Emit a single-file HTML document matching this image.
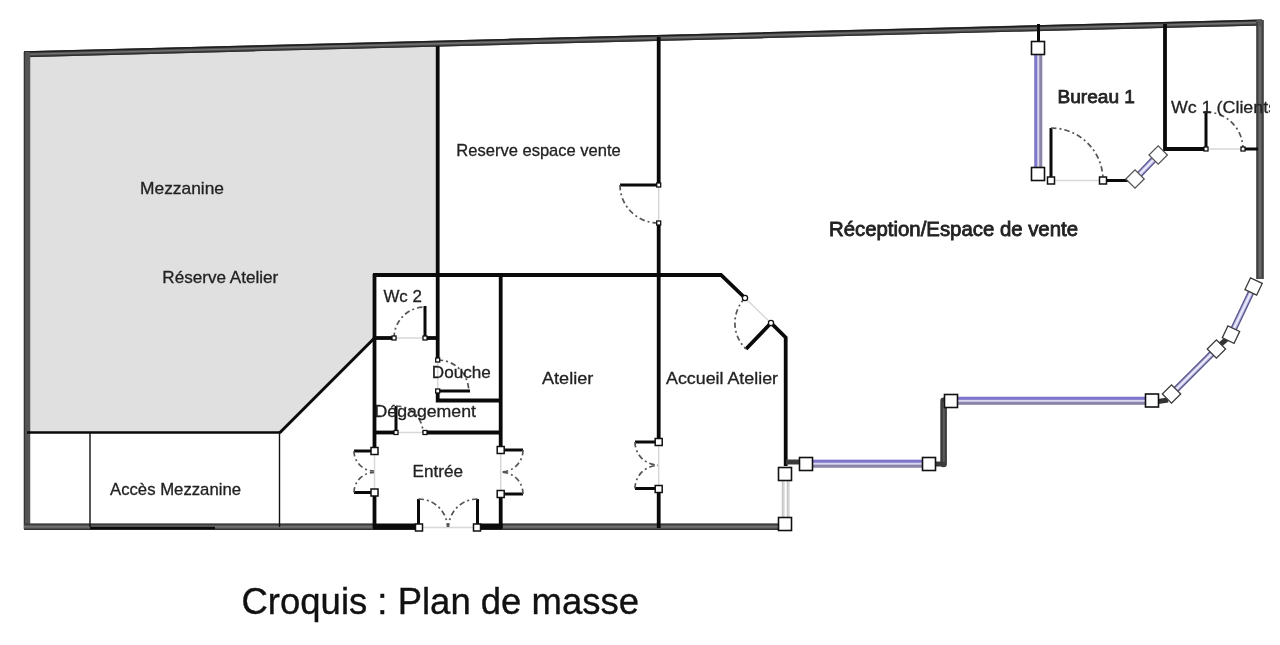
<!DOCTYPE html>
<html><head><meta charset="utf-8">
<style>
html,body{margin:0;padding:0;background:#fff;}
body{width:1280px;height:645px;overflow:hidden;}
svg{display:block;filter:blur(0.45px)}
text{font-family:"Liberation Sans",sans-serif;fill:#222;stroke:#222;stroke-width:0.3}
.w{stroke:#0a0a0a;stroke-width:3.8;fill:none;stroke-linecap:butt;stroke-linejoin:miter}
.t{stroke:#111;stroke-width:1.4;fill:none}
.g{stroke:#d6d8d6;stroke-width:1.5;fill:none}
.a{stroke:#555;stroke-width:1.7;fill:none;stroke-dasharray:5.5 3 2 3}
.sq{fill:#fff;stroke:#111;stroke-width:1.6}
.hs{fill:#fff;stroke:#111;stroke-width:1.5}
</style></head><body>
<svg width="1280" height="645" viewBox="0 0 1280 645">
<rect width="1280" height="645" fill="#fff"/>
<!-- mezzanine fill -->
<polygon points="27,54 437,44 437,275 374,275 374,338 280,432 27,432" fill="#e0e0e0"/>

<!-- outer walls -->
<g id="outer">
<line x1="24" y1="54.2" x2="1262" y2="22.4" stroke="#4c4c4c" stroke-width="6"/>
<line x1="24" y1="52" x2="1262" y2="20.2" stroke="#1e1e1e" stroke-width="1.5"/>
<line x1="24" y1="54.3" x2="1262" y2="22.5" stroke="#747474" stroke-width="1.3"/>
<line x1="24" y1="56.6" x2="1262" y2="24.8" stroke="#2e2e2e" stroke-width="1.2"/>
<line x1="27" y1="52" x2="27" y2="529" stroke="#555" stroke-width="6.5"/>
<line x1="24.5" y1="52" x2="24.5" y2="529" stroke="#333" stroke-width="1.2"/>
<path d="M24,526.7 H419 M477,526.7 H785" stroke="#555" stroke-width="6" fill="none"/>
<path d="M24,524.2 H419 M477,524.2 H785" stroke="#333" stroke-width="1.2" fill="none"/>
<path d="M24,529.3 H419 M477,529.3 H785" stroke="#333" stroke-width="1.2" fill="none"/>
<path d="M24,526.8 H373 M503,526.8 H785" stroke="#7a7a7a" stroke-width="1.2" fill="none"/>
<line x1="1260" y1="20" x2="1260" y2="279" stroke="#555" stroke-width="7"/>
<line x1="1257" y1="22" x2="1257" y2="279" stroke="#333" stroke-width="1.2"/>
<line x1="1263" y1="20" x2="1263" y2="279" stroke="#333" stroke-width="1.2"/>
<line x1="1260" y1="26" x2="1260" y2="277" stroke="#777" stroke-width="1.2"/>
</g>

<!-- inner walls -->
<g id="walls">
<line class="w" x1="437.7" y1="46" x2="437.7" y2="360"/>
<polyline class="w" points="373,275 721,275 745,298"/>
<line class="w" x1="500.7" y1="274" x2="500.7" y2="450"/>
<line class="w" x1="500.7" y1="494" x2="500.7" y2="528"/>
<line class="w" x1="374.5" y1="274" x2="374.5" y2="451"/>
<line class="w" x1="374.5" y1="492" x2="374.5" y2="528"/>
<!-- wc2 -->
<line class="w" x1="373" y1="338" x2="394" y2="338"/>
<line class="w" x1="425" y1="338" x2="439" y2="338"/>
<line class="w" style="stroke-width:3" x1="425" y1="306" x2="425" y2="339.5"/>
<line class="g" x1="394" y1="338" x2="425" y2="338"/>
<!-- douche -->
<line class="w" style="stroke-width:3" x1="437" y1="391" x2="470" y2="391"/>
<polyline class="w" points="437.7,390 437.7,400.5 502,400.5"/>
<line class="g" x1="437.7" y1="360" x2="437.7" y2="391"/>
<!-- degagement -->
<line class="w" x1="373" y1="432.5" x2="396" y2="432.5"/>
<line class="w" x1="425" y1="432.5" x2="502" y2="432.5"/>
<line class="w" style="stroke-width:3" x1="396" y1="406" x2="396" y2="434"/>
<line class="g" x1="396" y1="432.5" x2="425" y2="432.5"/>
<!-- entree bottom black -->
<line class="w" style="stroke-width:5.4" x1="373" y1="526.7" x2="419" y2="526.7"/>
<line class="w" style="stroke-width:5.4" x1="477" y1="526.7" x2="502.4" y2="526.7"/>
<line class="g" x1="419" y1="527.5" x2="477" y2="527.5"/>
<line class="g" x1="374.5" y1="451" x2="374.5" y2="492"/>
<line class="g" x1="500.7" y1="450" x2="500.7" y2="494"/>
<!-- entree door leaves -->
<line class="w" style="stroke-width:3" x1="354" y1="451" x2="374" y2="451"/>
<line class="w" style="stroke-width:3" x1="354" y1="492.5" x2="374" y2="492.5"/>
<line class="w" style="stroke-width:3" x1="501" y1="450" x2="523" y2="450"/>
<line class="w" style="stroke-width:3" x1="501" y1="494" x2="523" y2="494"/>
<line class="w" style="stroke-width:3" x1="418.5" y1="499" x2="418.5" y2="527"/>
<line class="w" style="stroke-width:3" x1="477.5" y1="499" x2="477.5" y2="527"/>
<!-- wall 658 -->
<line class="w" x1="658.7" y1="37" x2="658.7" y2="185"/>
<line class="w" x1="658.7" y1="223" x2="658.7" y2="442"/>
<line class="w" x1="658.7" y1="489" x2="658.7" y2="528"/>
<line class="g" x1="658.7" y1="185" x2="658.7" y2="223"/>
<line class="g" x1="658.7" y1="442" x2="658.7" y2="489"/>
<line class="w" style="stroke-width:3" x1="620" y1="185" x2="659" y2="185"/>
<line class="w" style="stroke-width:3" x1="635" y1="442" x2="658" y2="442"/>
<line class="w" style="stroke-width:3" x1="635" y1="488.5" x2="658" y2="488.5"/>
<!-- accueil atelier -->
<line class="g" x1="745" y1="298" x2="771" y2="323"/>
<polyline class="w" points="746,349 771,323 785.7,337.5 785.7,466"/>
<!-- accès mezzanine -->
<line class="w" style="stroke-width:2.6" x1="27" y1="432.5" x2="280" y2="432.5"/>
<line class="w" style="stroke-width:3" x1="279.5" y1="433" x2="375" y2="337.5"/>
<line class="t" x1="90" y1="432" x2="90" y2="527"/>
<line class="t" x1="279.5" y1="432" x2="279.5" y2="527"/>
<line class="w" style="stroke-width:2.4" x1="90" y1="528" x2="215" y2="528"/>
<!-- bureau / wc1 -->
<line class="w" style="stroke-width:3" x1="1038.5" y1="24" x2="1038.5" y2="42"/>
<line class="w" style="stroke-width:3" x1="1051" y1="128" x2="1051" y2="181"/>
<line class="g" x1="1051" y1="180.5" x2="1103" y2="180.5"/>
<line class="w" style="stroke-width:3" x1="1103" y1="180.5" x2="1128" y2="180.5"/>
<polyline class="w" points="1165,24 1165,149 1206,149"/>
<line class="w" style="stroke-width:3" x1="1206" y1="111" x2="1206" y2="150.5"/>
<line class="g" x1="1206" y1="149" x2="1243" y2="149"/>
<line class="w" style="stroke-width:3" x1="1243" y1="149" x2="1258" y2="149"/>
<!-- step wall -->
<line x1="943.6" y1="400.7" x2="943.6" y2="464" stroke="#3d3d3d" stroke-width="6.6" stroke-linecap="round"/><line x1="943.8" y1="402" x2="943.8" y2="462" stroke="#5c5c5c" stroke-width="2"/>
<line x1="786" y1="462" x2="801" y2="462" stroke="#3a3a3a" stroke-width="5"/>
<line x1="933" y1="464" x2="943" y2="464" stroke="#3a3a3a" stroke-width="5"/>
</g>

<!-- door arcs -->
<g id="arcs">
<path class="a" d="M394,338 A31,31 0 0 1 425,307"/>
<path class="a" d="M437.7,360 A31,31 0 0 1 468.7,391"/>
<path class="a" d="M396,406 A27,27 0 0 1 423,432.5"/>
<path class="a" d="M354,451 A20,20 0 0 0 374,471"/>
<path class="a" d="M354,492.5 A20,20 0 0 1 374,472.5"/>
<path class="a" d="M523,450 A22,22 0 0 1 501,472"/>
<path class="a" d="M523,494 A22,22 0 0 0 501,472"/>
<path class="a" d="M418.5,499 A29,29 0 0 1 447.5,527"/>
<path class="a" d="M477.5,499 A29,29 0 0 0 448.5,527"/>
<path class="a" d="M620,185 A38,38 0 0 0 658,223"/>
<path class="a" d="M635,442 A23,23 0 0 0 658,465"/>
<path class="a" d="M635,488.5 A23,23 0 0 1 658,465.5"/>
<path class="a" d="M745,298 A36,36 0 0 0 746,349"/>
<path class="a" d="M1051,128 A52,52 0 0 1 1103,180"/>
<path class="a" d="M1206,112 A37,37 0 0 1 1243,149"/>
</g>

<!-- windows -->
<g id="windows">
<g transform="translate(812,463.7) rotate(0)"><rect x="0" y="-4.0" width="111" height="8.0" fill="#d9d6f0"/><rect x="0" y="-4.0" width="111" height="3.0" fill="#7d75c9"/><rect x="0" y="1.0" width="111" height="3.0" fill="#8a85a6"/></g>
<g transform="translate(957,400.8) rotate(0)"><rect x="0" y="-4.0" width="189" height="8.0" fill="#d9d6f0"/><rect x="0" y="-4.0" width="189" height="3.0" fill="#7d75c9"/><rect x="0" y="1.0" width="189" height="3.0" fill="#8a85a6"/></g>
<g transform="translate(1038.25,168) rotate(-90)"><rect x="0" y="-4.0" width="114" height="8.0" fill="#d9d6f0"/><rect x="0" y="-4.0" width="114" height="3.0" fill="#7d75c9"/><rect x="0" y="1.0" width="114" height="3.0" fill="#8a85a6"/></g>
<g transform="translate(1135,179) rotate(-46)"><rect x="6" y="-3.3" width="21" height="6.6" fill="#c6c3ec"/><rect x="6" y="-0.7" width="21" height="1.4" fill="#f2f2ff"/><rect x="6" y="-3.3" width="21" height="1.4" fill="#5a588c"/><rect x="6" y="1.9" width="21" height="1.4" fill="#5a588c"/></g>
<g transform="translate(1171.5,394) rotate(-45)"><rect x="6" y="-3.3" width="52" height="6.6" fill="#c6c3ec"/><rect x="6" y="-0.7" width="52" height="1.4" fill="#f2f2ff"/><rect x="6" y="-3.3" width="52" height="1.4" fill="#5a588c"/><rect x="6" y="1.9" width="52" height="1.4" fill="#5a588c"/></g>
<g transform="translate(1231,334.6) rotate(-64.6)"><rect x="6" y="-3.3" width="41" height="6.6" fill="#c6c3ec"/><rect x="6" y="-0.7" width="41" height="1.4" fill="#f2f2ff"/><rect x="6" y="-3.3" width="41" height="1.4" fill="#5a588c"/><rect x="6" y="1.9" width="41" height="1.4" fill="#5a588c"/></g>
<g stroke="#b8b8b8" stroke-width="1" fill="none"><line x1="782.3" y1="480" x2="782.3" y2="518"/><line x1="783.9" y1="480" x2="783.9" y2="518"/><line x1="787.3" y1="480" x2="787.3" y2="518"/><line x1="788.9" y1="480" x2="788.9" y2="518"/></g>
<line x1="1158" y1="401.5" x2="1168" y2="400" stroke="#333" stroke-width="5"/>
<line x1="1218" y1="346.5" x2="1228" y2="338" stroke="#333" stroke-width="5"/>
</g>

<!-- squares -->
<g id="squares">
<rect class="sq" x="799.5" y="457.5" width="13" height="13"/>
<rect class="sq" x="778.5" y="467.5" width="13" height="13"/>
<rect class="sq" x="778.5" y="517.5" width="13" height="13"/>
<rect class="sq" x="922.5" y="457.5" width="13" height="13"/>
<rect class="sq" x="944.5" y="394.5" width="13" height="13"/>
<rect class="sq" x="1145.5" y="394" width="13" height="13"/>
<rect class="sq" x="1031.5" y="41.5" width="13" height="13"/>
<rect class="sq" x="1031.5" y="167.5" width="13" height="13"/>
<g transform="translate(1171.5,394) rotate(-45)"><rect class="sq" x="-6.5" y="-6.5" width="13" height="13" style="stroke:#3a3a3a;stroke-width:1.3"/></g>
<g transform="translate(1216.4,349) rotate(-45)"><rect class="sq" x="-6.5" y="-6.5" width="13" height="13" style="stroke:#3a3a3a;stroke-width:1.3"/></g>
<g transform="translate(1231,334.6) rotate(-64.6)"><rect class="sq" x="-6.5" y="-6.5" width="13" height="13" style="stroke:#3a3a3a;stroke-width:1.3"/></g>
<g transform="translate(1253.6,286.5) rotate(-64.6)"><rect class="sq" x="-6.5" y="-6.5" width="13" height="13" style="stroke:#3a3a3a;stroke-width:1.3"/></g>
<g transform="translate(1135,179) rotate(-45)"><rect class="sq" x="-6.5" y="-6.5" width="13" height="13" style="stroke:#555;stroke-width:1.3"/></g>
<g transform="translate(1158.2,155) rotate(-45)"><rect class="sq" x="-6.5" y="-6.5" width="13" height="13" style="stroke:#555;stroke-width:1.3"/></g>
<!-- medium hinge squares (7px) -->
<rect class="hs" x="371" y="447.5" width="7" height="7"/>
<rect class="hs" x="371" y="489" width="7" height="7"/>
<rect class="hs" x="497.2" y="446.5" width="7" height="7"/>
<rect class="hs" x="497.2" y="490.5" width="7" height="7"/>
<rect class="hs" x="415.5" y="524" width="7" height="7"/>
<rect class="hs" x="473.5" y="524" width="7" height="7"/>
<rect class="hs" x="655.2" y="438.5" width="7" height="7"/>
<rect class="hs" x="655.2" y="485.5" width="7" height="7"/>
<rect class="hs" x="1047.5" y="177" width="7" height="7"/>
<rect class="hs" x="1099.5" y="177" width="7" height="7"/>
<!-- tiny hinges -->
<g fill="#fff" stroke="#111" stroke-width="1.3">
<rect x="392" y="336" width="4" height="4"/>
<rect x="423" y="336" width="4" height="4"/>
<rect x="435.7" y="358" width="4" height="4"/>
<rect x="435.7" y="389" width="4" height="4"/>
<rect x="394" y="430.5" width="4" height="4"/>
<rect x="423" y="430.5" width="4" height="4"/>
<rect x="656.7" y="183" width="4" height="4"/>
<rect x="656.7" y="221" width="4" height="4"/>
<rect x="1204" y="147" width="4" height="4"/>
<rect x="1241" y="147" width="4" height="4"/>
<circle cx="745" cy="298" r="2.6"/>
<circle cx="771" cy="323" r="2.6"/>
</g>
</g>

<!-- labels -->
<g id="labels" font-size="17">
<text x="140" y="193.7" textLength="84" lengthAdjust="spacingAndGlyphs">Mezzanine</text>
<text x="162.3" y="283.3" textLength="116" lengthAdjust="spacingAndGlyphs">Réserve Atelier</text>
<text x="456.3" y="155.9" textLength="164.5" lengthAdjust="spacingAndGlyphs">Reserve espace vente</text>
<text x="383.4" y="301.7" textLength="38.5" lengthAdjust="spacingAndGlyphs">Wc 2</text>
<text x="431.8" y="378" textLength="59" lengthAdjust="spacingAndGlyphs">Douche</text>
<text x="374.5" y="417.3" textLength="101.5" lengthAdjust="spacingAndGlyphs">Dégagement</text>
<text x="412.5" y="476.8" textLength="50.5" lengthAdjust="spacingAndGlyphs">Entrée</text>
<text x="542" y="383.8" textLength="51.3" lengthAdjust="spacingAndGlyphs">Atelier</text>
<text x="666" y="384" textLength="112" lengthAdjust="spacingAndGlyphs">Accueil Atelier</text>
<text x="110" y="494.5" textLength="131" lengthAdjust="spacingAndGlyphs">Accès Mezzanine</text>
</g>
<text x="1057.5" y="103" font-size="18.3" textLength="77.5" lengthAdjust="spacingAndGlyphs" style="stroke-width:0.75">Bureau 1</text>
<clipPath id="cl"><rect x="1160" y="80" width="110" height="50"/></clipPath>
<g clip-path="url(#cl)"><text x="1171" y="112.5" font-size="17.3" textLength="112" lengthAdjust="spacingAndGlyphs">Wc 1 (Clients)</text></g>
<text x="829" y="236" font-size="19.8" textLength="249" lengthAdjust="spacingAndGlyphs" style="stroke-width:0.8">Réception/Espace de vente</text>
<text x="241.5" y="614" font-size="36.3" textLength="397.5" lengthAdjust="spacingAndGlyphs" style="fill:#111;stroke:#111;stroke-width:0.35">Croquis : Plan de masse</text>
</svg>
</body></html>
